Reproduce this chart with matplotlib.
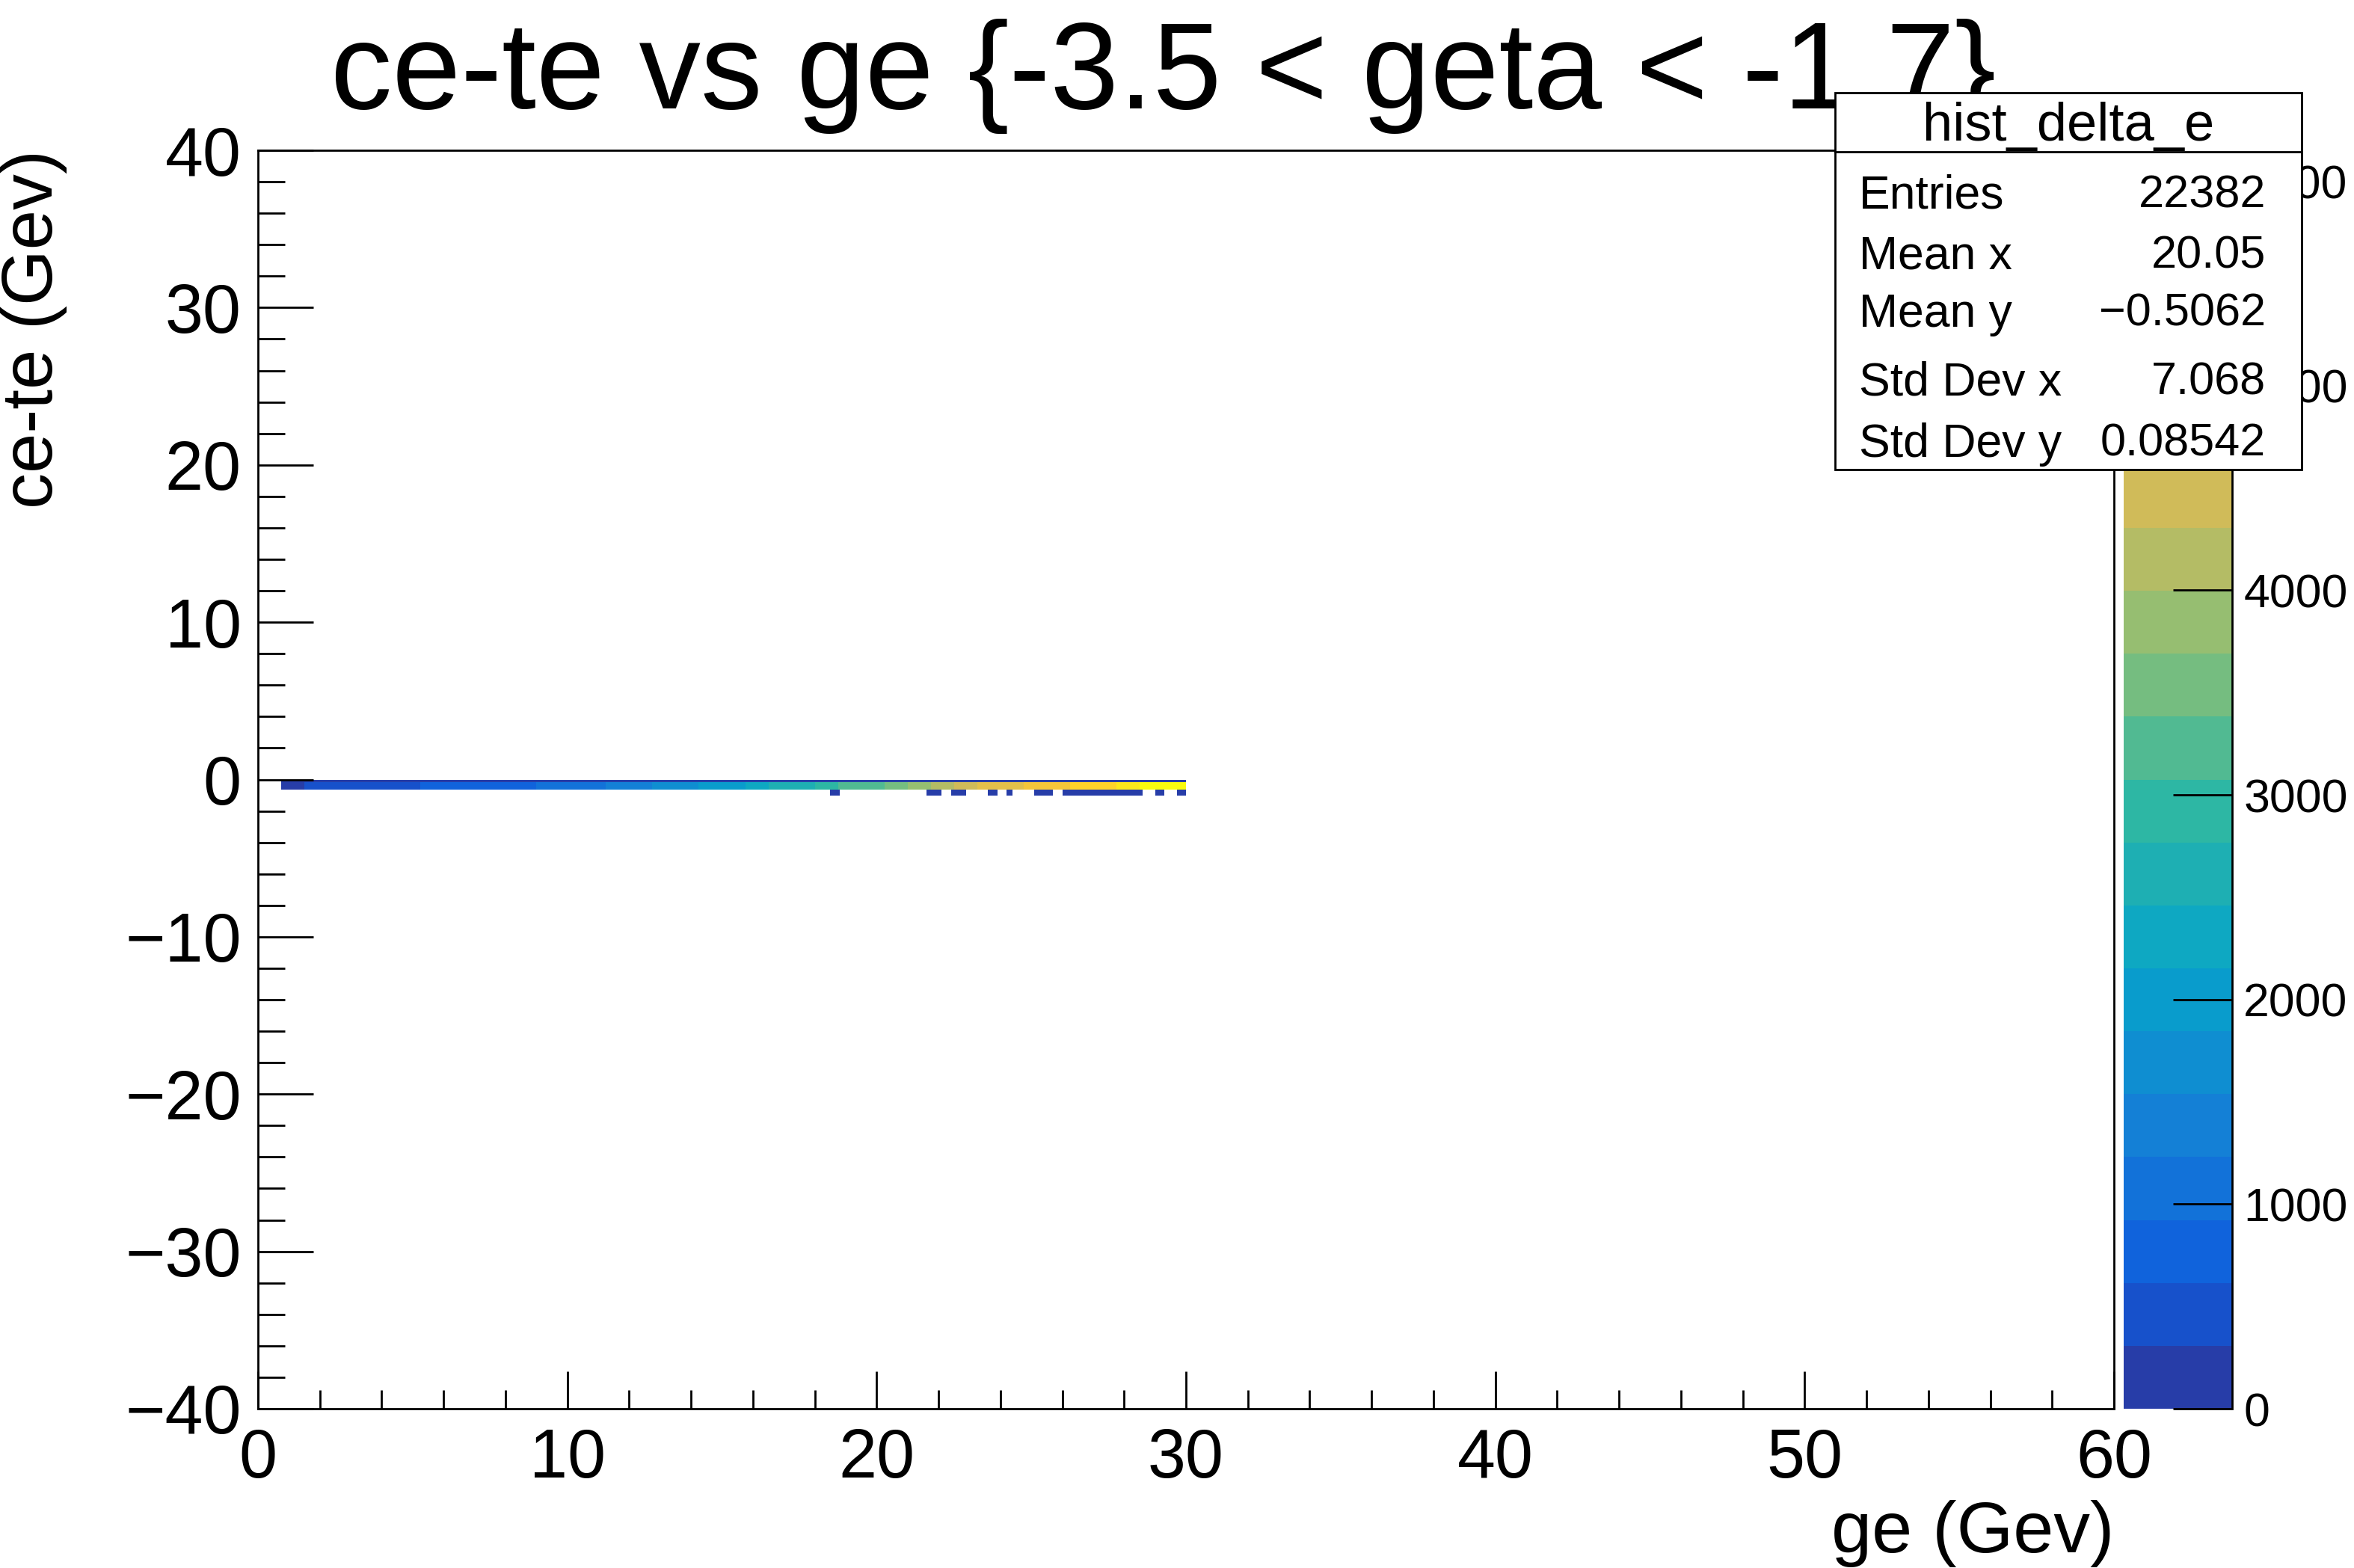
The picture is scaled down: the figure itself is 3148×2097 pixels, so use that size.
import matplotlib
matplotlib.use('Agg')
import matplotlib.pyplot as plt
import numpy as np
from matplotlib.colors import LinearSegmentedColormap, ListedColormap, BoundaryNorm
from matplotlib.cm import ScalarMappable
from matplotlib.patches import Rectangle
from matplotlib.ticker import MultipleLocator

plt.rcParams['font.family'] = ['Liberation Sans', 'DejaVu Sans']

# figure size in pixels (dpi 100)
W, H = 3148, 2097

# main row of the 2D histogram (ce-te bin just below 0), x bins 0.75 GeV wide
main_x_edges = [0.75, 1.5, 2.25, 3.0, 3.75, 4.5, 5.25, 6.0, 6.75, 7.5, 8.25, 9.0, 9.75,
                10.5, 11.25, 12.0, 12.75, 13.5, 14.25, 15.0, 15.75, 16.5, 17.25, 18.0,
                18.75, 19.5, 20.25, 21.0, 21.75, 22.5, 23.25, 24.0, 24.75, 25.5, 26.25,
                27.0, 27.75, 28.5, 29.25, 30.0]
main_counts = [180, 350, 420, 480, 530, 580, 620, 680, 740, 800, 860, 930, 1000,
               1080, 1250, 1450, 1600, 1750, 1900, 2100, 2300, 2500, 2700, 2900,
               3100, 3350, 3600, 3900, 4200, 4450, 4650, 4800, 4950, 5100, 5300,
               5500, 5750, 5950, 6150]
main_y_edges = [-0.65, -0.15]

# thin row on top of the band
top_x_edges = [0.75, 30.0]
top_counts = [40]
top_y_edges = [-0.15, 0.0]

# sparse row below the band (nan = empty)
low_x_edges = [18.5, 18.8, 21.6, 22.1, 22.4, 22.9, 23.6, 23.9, 24.2, 24.4, 25.1, 25.7,
               26.0, 28.6, 29.0, 29.3, 29.7, 30.0]
low_counts = [30, np.nan, 40, np.nan, 35, np.nan, 30, np.nan, 30, np.nan, 40, np.nan,
              60, np.nan, 40, np.nan, 40]
low_y_edges = [-1.0, -0.65]

ZMAX = 6150
cbar_ticks = [0, 1000, 2000, 3000, 4000, 5000, 6000]

stat_names = ['Entries', 'Mean x', 'Mean y', 'Std Dev x', 'Std Dev y']
stat_values = ['22382', '20.05', '\u22120.5062', '7.068', '0.08542']

# ROOT kBird palette, 20 contour levels
stops = [0.0, 0.125, 0.25, 0.375, 0.5, 0.625, 0.75, 0.875, 1.0]
red = [0.2082, 0.0592, 0.0780, 0.0232, 0.1802, 0.5301, 0.8186, 0.9956, 0.9764]
green = [0.1664, 0.3599, 0.5041, 0.6419, 0.7178, 0.7492, 0.7328, 0.7862, 0.9832]
blue = [0.5293, 0.8684, 0.8385, 0.7914, 0.6425, 0.4662, 0.3499, 0.1968, 0.0539]
bird = LinearSegmentedColormap.from_list('bird', list(zip(stops, zip(red, green, blue))))
ncont = 20
cmap = ListedColormap([bird(min((i + 0.99) / ncont, 1.0)) for i in range(ncont)])
levels = np.linspace(0, ZMAX, ncont + 1)
norm = BoundaryNorm(levels, ncont)

fig = plt.figure(figsize=(W / 100, H / 100), dpi=100)
fig.patch.set_facecolor('white')


def px_axes(x0, y0, x1, y1):
    return fig.add_axes([x0 / W, 1 - y1 / H, (x1 - x0) / W, (y1 - y0) / H])


ax = px_axes(345, 201, 2827, 1884)
cax = px_axes(2840, 201, 2985, 1884)

for xe, ye, c in [(main_x_edges, main_y_edges, main_counts),
                  (top_x_edges, top_y_edges, top_counts),
                  (low_x_edges, low_y_edges, low_counts)]:
    ax.pcolormesh(xe, ye, np.ma.masked_invalid([c]), cmap=cmap, norm=norm,
                  edgecolors='none', antialiased=False)

ax.set_xlim(0, 60)
ax.set_ylim(-40, 40)
ax.xaxis.set_major_locator(MultipleLocator(10))
ax.xaxis.set_minor_locator(MultipleLocator(2))
ax.yaxis.set_major_locator(MultipleLocator(10))
ax.yaxis.set_minor_locator(MultipleLocator(2))
for s in ax.spines.values():
    s.set_linewidth(2)
ax.tick_params(axis='y', which='major', direction='in', length=53, width=2,
               labelsize=66, pad=16, right=False)
ax.tick_params(axis='y', which='minor', direction='in', length=26, width=2, right=False)
ax.tick_params(axis='x', which='major', direction='in', length=36, width=2,
               labelsize=66, pad=18, top=False)
ax.tick_params(axis='x', which='minor', direction='in', length=18, width=2, top=False)

# colorbar (palette axis)
cb = fig.colorbar(ScalarMappable(norm=norm, cmap=cmap), cax=cax, ticks=cbar_ticks)
cb.outline.set_visible(False)
cax.plot([1, 1], [0, 1], transform=cax.transAxes, color='black', lw=2, clip_on=False)
cax.minorticks_off()
cax.tick_params(direction='in', length=57, width=2, labelsize=45, pad=11)
cax.set_yticklabels([str(t) for t in cbar_ticks])

# axis titles
fig.text(2827 / W, 1 - 2076 / H, 'ge (Gev)', ha='right', va='baseline', fontsize=70)
fig.text(70 / W, 1 - 200 / H, 'ce-te (Gev)', ha='right', va='baseline', fontsize=69,
         rotation=90, rotation_mode='anchor')

# title, fitted to its width in the reference
title = fig.text(1556 / W, 1 - 145 / H, 'ce-te vs ge {-3.5 < geta < -1.7}',
                 ha='center', va='baseline', fontsize=110, zorder=3)
fig.canvas.draw()
tw = title.get_window_extent().width
title.set_fontsize(110 * 2228 / tw)

# stats box
box = Rectangle((2454 / W, 1 - 628 / H), (3078 - 2454) / W, (628 - 124) / H,
                transform=fig.transFigure, facecolor='white', edgecolor='black',
                lw=2, zorder=10)
fig.add_artist(box)
fig.add_artist(plt.Line2D([2454 / W, 3078 / W], [1 - 203 / H, 1 - 203 / H],
                          transform=fig.transFigure, color='black', lw=2, zorder=11))
fig.text(2766 / W, 1 - 169 / H, 'hist_delta_e', ha='center', va='center',
         fontsize=52, zorder=12)
row_y = [262, 343, 420, 512, 594]
for name, val, y in zip(stat_names, stat_values, row_y):
    fig.text(2486 / W, 1 - y / H, name, ha='left', va='center', fontsize=45, zorder=12)
    fig.text(3030 / W, 1 - y / H, val, ha='right', va='center', fontsize=44, zorder=12)

fig.savefig('out.png', dpi=100)
